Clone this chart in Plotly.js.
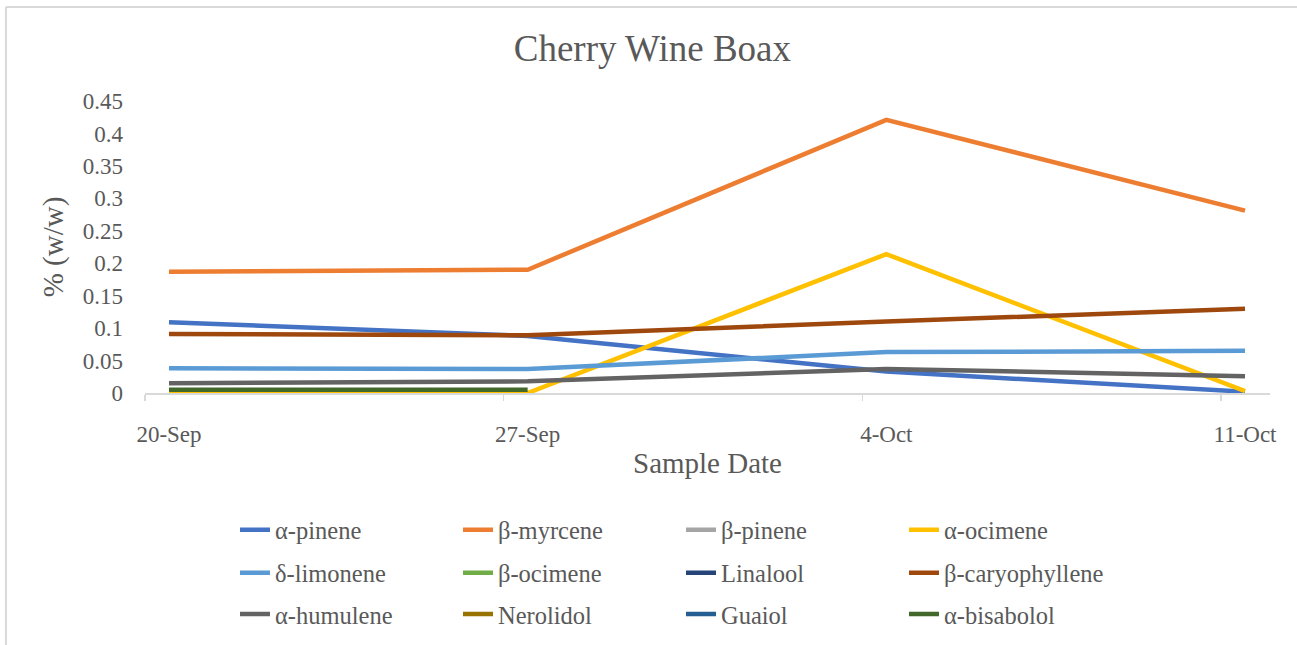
<!DOCTYPE html>
<html>
<head>
<meta charset="utf-8">
<script src="https://cdn.plot.ly/plotly-3.0.1.min.js"></script>
<style>html,body{margin:0;padding:0;background:#fff;}#chart{width:1297px;height:645px;}</style>
</head>
<body>
<div id="chart"></div>
<script>
var categories = ["20-Sep", "27-Sep", "4-Oct", "11-Oct"];
var seriesNames = ["α-pinene","β-myrcene","β-pinene","α-ocimene","δ-limonene","β-ocimene","Linalool","β-caryophyllene","α-humulene","Nerolidol","Guaiol","α-bisabolol"];
var colors = ["#4472C4","#ED7D31","#A5A5A5","#FFC000","#5B9BD5","#70AD47","#264478","#9E480E","#636363","#997300","#255E91","#43682B"];
var aPinene = [0.109, 0.088, 0.033, 0.002];
var bMyrcene = [0.187, 0.190, 0.421, 0.281];
var bPinene = [null, null, null, null];
var aOcimene = [0.0, 0.0, 0.214, 0.003];
var dLimonene = [0.038, 0.037, 0.063, 0.065];
var bOcimene = [null, null, null, null];
var linalool = [null, null, null, null];
var bCaryophyllene = [0.091, 0.089, 0.110, 0.130];
var aHumulene = [0.015, 0.018, 0.037, 0.026];
var nerolidol = [null, null, null, null];
var guaiol = [null, null, null, null];
var aBisabolol = [0.005, 0.005, null, null];
var allValues = [aPinene,bMyrcene,bPinene,aOcimene,dLimonene,bOcimene,linalool,bCaryophyllene,aHumulene,nerolidol,guaiol,aBisabolol];
var yTickVals = [0,0.05,0.1,0.15,0.2,0.25,0.3,0.35,0.4,0.45];
var yTickText = ["0","0.05","0.1","0.15","0.2","0.25","0.3","0.35","0.4","0.45"];

var xIdx = categories.map(function(c,i){return i;});
var legendIds = ["legend","legend2","legend3"];
var font = "Times New Roman, Liberation Serif, Tinos, DejaVu Serif, serif";
var grey = "#595959";

var traces = seriesNames.map(function(name, i){
  return {
    type: "scatter", mode: "lines", name: name,
    x: xIdx, y: allValues[i],
    line: {color: colors[i], width: 4.5},
    legend: legendIds[Math.floor(i/4)],
    hoverinfo: "x+y+name"
  };
});

function legendRow(yc){
  return {orientation: "h", x: 0.080, xanchor: "left", y: yc, yanchor: "middle",
    entrywidth: 178, entrywidthmode: "pixels", itemwidth: 30,
    font: {family: font, size: 24.5, color: grey}, bgcolor: "rgba(0,0,0,0)"};
}

var layout = {
  width: 1297, height: 645,
  font: {family: font, color: grey},
  margin: {l: 145, r: 27, t: 101, b: 252, autoexpand: false},
  paper_bgcolor: "#fff", plot_bgcolor: "#fff",
  title: {text: "Cherry Wine Boax", x: 0.503, xref: "container", xanchor: "center", y: 0.925, yref: "container", yanchor: "middle",
    font: {family: font, size: 37, color: grey}},
  xaxis: {
    range: [-0.0669, 3.0697], tickvals: xIdx, ticktext: categories,
    ticks: "", showgrid: false, zeroline: false,
    showline: true, linecolor: "#D9D9D9", linewidth: 1.5,
    minor: {tick0: -0.0669, dtick: 1, ticks: "outside", ticklen: 6, tickcolor: "#D9D9D9", tickwidth: 1.5, showgrid: false},
    tickfont: {family: font, size: 23, color: grey}, ticklabelstandoff: 20,
    title: {text: "Sample Date", font: {family: font, size: 29, color: grey}, standoff: 6}
  },
  yaxis: {
    range: [0, 0.45], tickvals: yTickVals, ticktext: yTickText,
    showgrid: false, zeroline: false, showline: false, ticks: "",
    tickfont: {family: font, size: 23, color: grey}, ticklabelstandoff: 21,
    title: {text: "% (w/w)", font: {family: font, size: 29, color: grey}, standoff: 10}
  },
  legend: legendRow(-0.469),
  legend2: legendRow(-0.616),
  legend3: legendRow(-0.757),
  shapes: [
    {type: "line", xref: "paper", yref: "paper", x0: -0.1236, x1: 1.03, y0: 1.3219, y1: 1.3219,
     line: {color: "#D9D9D9", width: 2}, layer: "below"},
    {type: "line", xref: "paper", yref: "paper", x0: -0.1236, x1: -0.1236, y0: -0.9, y1: 1.3219,
     line: {color: "#D9D9D9", width: 2}, layer: "below"}
  ]
};

Plotly.newPlot("chart", traces, layout, {displayModeBar: false, staticPlot: true});
</script>
</body>
</html>
